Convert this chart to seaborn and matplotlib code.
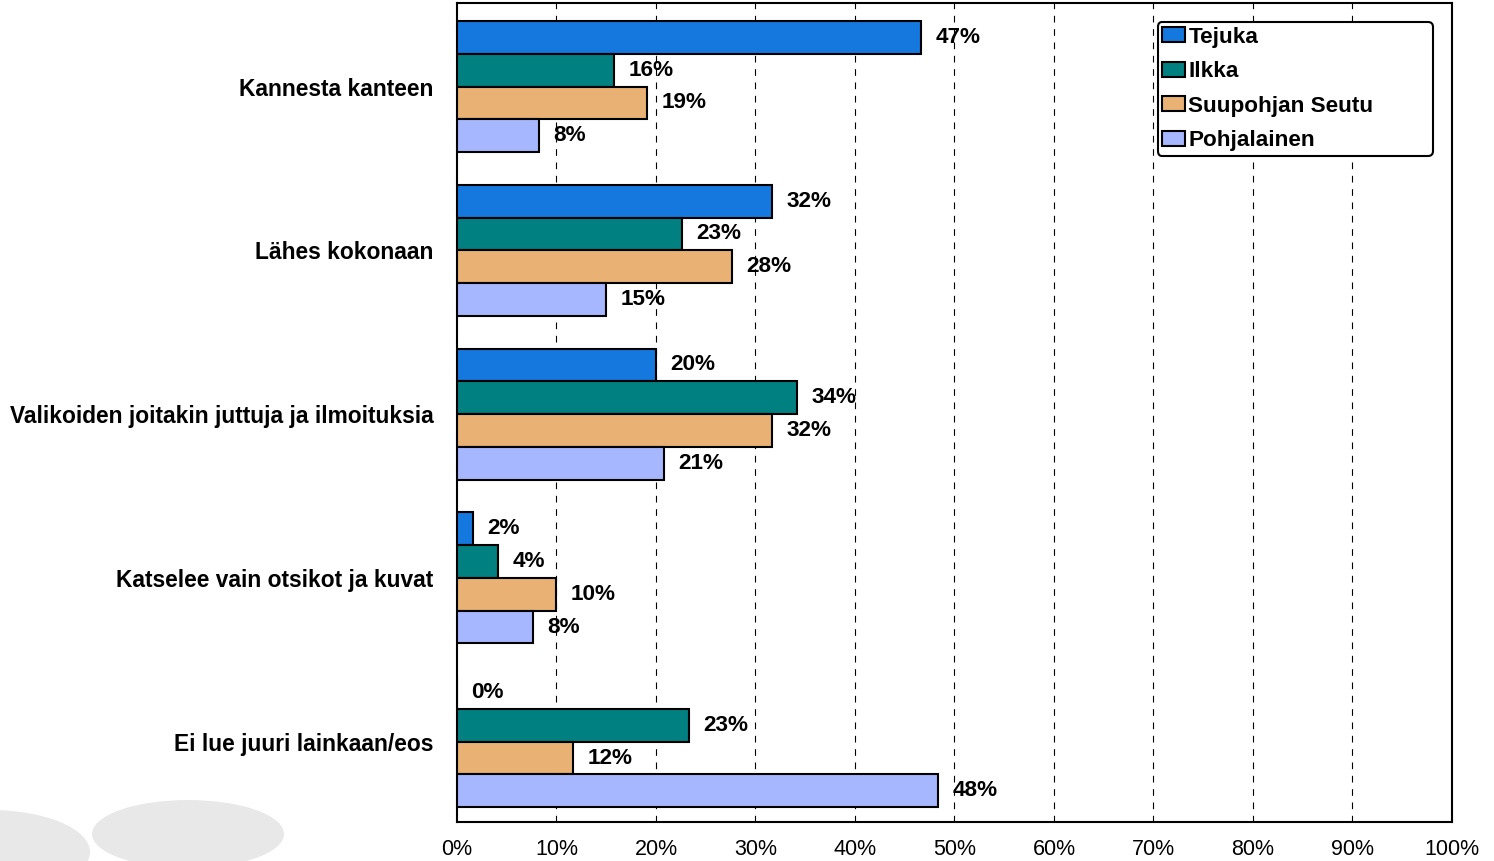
import matplotlib.pyplot as plt
import pandas as pd
import seaborn as sns
from matplotlib.patches import Ellipse, Patch

# Chart data
categories = [
    "Kannesta kanteen",
    "Lähes kokonaan",
    "Valikoiden joitakin juttuja ja ilmoituksia",
    "Katselee vain otsikot ja kuvat",
    "Ei lue juuri lainkaan/eos",
]
papers = ["Tejuka", "Ilkka", "Suupohjan Seutu", "Pohjalainen"]
tejuka = [46.6, 31.7, 20.0, 1.6, 0.0]
ilkka = [15.8, 22.6, 34.2, 4.1, 23.3]
suupohjan_seutu = [19.1, 27.6, 31.7, 9.95, 11.7]
pohjalainen = [8.2, 15.0, 20.8, 7.6, 48.3]
x_ticks = list(range(0, 101, 10))

colors = ["#1478DE", "#008080", "#E9B174", "#A6B6FF"]

series = [tejuka, ilkka, suupohjan_seutu, pohjalainen]
df = pd.DataFrame(
    [
        {"category": cat, "paper": paper, "value": vals[i]}
        for paper, vals in zip(papers, series)
        for i, cat in enumerate(categories)
    ]
)

sns.set_style("white")
plt.rcParams["font.family"] = ["Liberation Sans", "DejaVu Sans"]
plt.rcParams["text.color"] = "black"
plt.rcParams["xtick.color"] = "black"
plt.rcParams["ytick.color"] = "black"

fig = plt.figure(figsize=(14.94, 8.61), dpi=100)
ax = fig.add_axes([457 / 1494, 1 - 822 / 861, 995 / 1494, 819 / 861])

# decorative grey watermark shapes in the lower left corner
for cx, cy, w, h in [(-10, 852, 200, 84), (188, 834, 192, 68)]:
    fig.patches.append(
        Ellipse(
            (cx / 1494, 1 - cy / 861),
            w / 1494,
            h / 861,
            transform=fig.transFigure,
            facecolor="#E8E8E8",
            edgecolor="none",
            zorder=0,
        )
    )

sns.barplot(
    data=df,
    y="category",
    x="value",
    hue="paper",
    hue_order=papers,
    order=categories,
    palette=colors,
    orient="h",
    width=0.8,
    edgecolor="black",
    linewidth=1.5,
    saturation=1,
    legend=False,
    ax=ax,
    zorder=3,
)

for container, vals in zip(ax.containers, series):
    ax.bar_label(
        container,
        labels=[f"{v:.0f}%" for v in vals],
        padding=10.5,
        fontsize=16.2,
        fontweight="bold",
        color="black",
    )

ax.set_xlim(0, 100)
ax.set_ylim(4.49, -0.51)
ax.set_xticks(x_ticks)
ax.set_xticklabels([f"{t}%" for t in x_ticks], fontsize=15.5)
ax.tick_params(axis="x", length=0, pad=12)
ax.tick_params(axis="y", length=0, pad=17, labelsize=16.4)
for lab in ax.get_yticklabels():
    lab.set_fontweight("bold")
ax.set_xlabel("")
ax.set_ylabel("")

for t in x_ticks[1:-1]:
    ax.axvline(t, color="black", linestyle=(0, (6, 6)), linewidth=0.8, zorder=1)

for spine in ax.spines.values():
    spine.set_visible(True)
    spine.set_color("black")
    spine.set_linewidth(1.5)

handles = [Patch(facecolor=c, edgecolor="black", linewidth=1.5) for c in colors]
leg = ax.legend(
    handles,
    papers,
    loc="upper left",
    bbox_to_anchor=((1158 - 457) / 995, (822 - 22) / 819 - 0.01, 275 / 995, 0.01),
    mode="expand",
    borderaxespad=0,
    frameon=True,
    fancybox=True,
    prop={"weight": "bold", "size": 16.2},
    handlelength=1.0,
    handleheight=0.65,
    handletextpad=0.15,
    labelspacing=0.6,
    borderpad=0.2,
    framealpha=1,
)
leg.get_frame().set_edgecolor("black")
leg.get_frame().set_linewidth(1.5)
leg.set_zorder(5)

fig.savefig("out.png", dpi=100)
